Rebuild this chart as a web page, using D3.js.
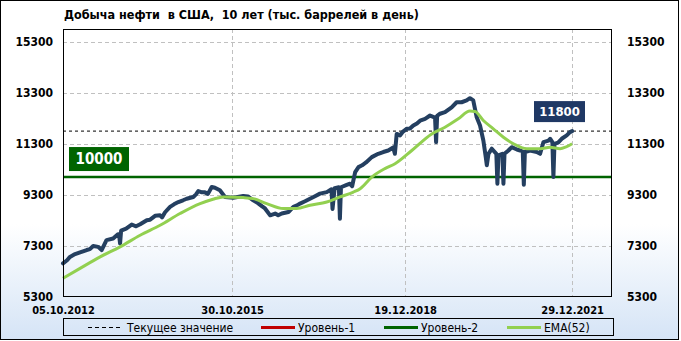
<!DOCTYPE html>
<html>
<head>
<meta charset="utf-8">
<script src="https://cdn.jsdelivr.net/npm/d3@7"></script>
<style>
body { margin: 0; background: #fff; }
svg { display: block; }
</style>
</head>
<body>
<script>
var title = "Добыча нефти  в США,  10 лет (тыс. баррелей в день)";

// weekly production (thousand barrels per day)
var oilDates = ["2012-10-05","2012-11-01","2012-11-20","2012-12-24","2013-01-26","2013-03-11","2013-04-01","2013-04-23",
  "2013-05-26","2013-06-18","2013-07-20","2013-09-02","2013-10-04","2013-10-11","2013-10-18","2013-10-25","2013-11-27",
  "2014-01-03","2014-02-01","2014-02-28","2014-04-13","2014-05-05","2014-06-07","2014-07-10","2014-07-23","2014-08-12",
  "2014-09-14","2014-10-10","2014-11-08","2014-12-09","2015-01-02","2015-02-15","2015-03-05","2015-03-20","2015-04-13",
  "2015-05-03","2015-05-23","2015-06-17","2015-07-08","2015-08-10","2015-09-13","2015-11-06","2016-01-12","2016-02-12",
  "2016-03-18","2016-04-20","2016-05-16","2016-06-04","2016-07-08","2016-08-10","2016-08-30","2016-09-23","2016-11-06",
  "2016-12-09","2017-01-02","2017-01-22","2017-02-24","2017-03-29","2017-05-01","2017-06-03","2017-07-18","2017-08-18",
  "2017-08-25","2017-09-08","2017-10-06","2017-10-13","2017-10-20","2017-11-23","2017-12-19","2018-01-02","2018-01-22",
  "2018-02-13","2018-03-09","2018-04-04","2018-05-12","2018-06-24","2018-07-27","2018-08-29","2018-10-01","2018-10-12",
  "2018-10-24","2018-11-15","2018-12-05","2018-12-29","2019-01-20","2019-02-11","2019-03-07","2019-03-28","2019-04-30",
  "2019-06-02","2019-07-05","2019-07-12","2019-07-19","2019-08-07","2019-09-09","2019-10-23","2019-11-25","2019-12-28",
  "2020-01-30","2020-02-21","2020-03-14","2020-04-06","2020-04-28","2020-05-20","2020-06-05","2020-06-12","2020-06-23",
  "2020-07-15","2020-08-14","2020-08-21","2020-08-28","2020-09-23","2020-09-30","2020-10-07","2020-11-02","2020-11-24",
  "2020-12-28","2021-01-19","2021-02-05","2021-02-12","2021-02-19","2021-03-26","2021-05-09","2021-05-31","2021-06-22",
  "2021-07-25","2021-08-05","2021-08-20","2021-08-27","2021-09-03","2021-09-27","2021-10-21","2021-11-23","2021-12-15",
  "2021-12-29"];
var oilValues = [6620,6740,6870,6980,7050,7140,7175,7300,
  7265,7140,7530,7590,7760,7760,7400,7900,7980,
  8140,8070,8150,8310,8330,8480,8500,8420,8620,
  8830,8930,9020,9090,9150,9220,9320,9450,9400,
  9400,9340,9610,9580,9480,9220,9190,9260,9240,
  9090,8970,8850,8770,8500,8570,8500,8570,8630,
  8830,8890,8960,9050,9150,9250,9350,9410,9520,
  8750,9560,9600,8370,9600,9680,9740,9640,10190,
  10390,10460,10570,10780,10910,10980,11040,11160,10910,
  11690,11630,11780,11890,11900,12020,12100,12210,12280,
  12410,12330,11370,12400,12480,12540,12730,12930,12930,
  13000,13090,13000,12340,12020,11430,10780,10460,10910,
  11110,10910,9740,10850,10910,9740,10910,11040,11170,
  11080,11040,11000,9700,10980,11040,10980,10910,11370,
  11430,11500,11370,10000,11300,11350,11500,11630,11760,
  11800];

// EMA(52) line
var emaDates = ["2012-10-05","2013-01-26","2013-06-08","2013-10-18","2014-02-28","2014-07-10","2014-11-19","2015-04-01",
  "2015-06-25","2015-09-02","2016-01-12","2016-03-18","2016-06-15","2016-10-03","2016-12-31","2017-03-29","2017-07-18",
  "2017-10-14","2018-01-10","2018-02-24","2018-05-12","2018-08-07","2018-10-13","2019-02-01","2019-06-13","2019-09-09",
  "2019-12-06","2020-02-21","2020-03-26","2020-05-20","2020-07-25","2020-09-30","2020-12-05","2021-03-04","2021-05-31",
  "2021-08-05","2021-10-10","2021-11-19","2021-12-29"];
var emaValues = [6030,6420,6870,7265,7720,8110,8570,8960,
  9130,9220,9195,9155,8960,8765,8765,8895,9020,
  9220,9410,9545,10000,10330,10520,11040,11690,11950,
  12280,12585,12565,12215,11890,11560,11305,11110,11110,
  11170,11110,11180,11305];

var yTicks = [5300, 7300, 9300, 11300, 13300, 15300];
var xTicks = ["2012-10-05", "2015-10-30", "2018-12-19", "2021-12-29"];
var currentValue = 11800;
var level2Value = 10000;
var legendLabels = ["Текущее значение", "Уровень-1", "Уровень-2", "EMA(52)"];
var legendColors = ["#000000", "#c00000", "#006400", "#92d050"];

var width = 681, height = 341;
var margin = {top: 29, right: 69, bottom: 44, left: 63};
var parse = d3.timeParse("%Y-%m-%d");

var x = d3.scaleTime()
  .domain([parse("2012-10-05"), parse("2022-09-19")])
  .range([margin.left, width - margin.right]);
var y = d3.scaleLinear()
  .domain([5300, 15800])
  .range([height - margin.bottom, margin.top]);

var svg = d3.select("body").append("svg")
  .attr("width", width)
  .attr("height", height);

// background gradient
var grad = svg.append("defs").append("linearGradient")
  .attr("id", "bg").attr("x1", 0).attr("y1", 0).attr("x2", 0).attr("y2", 1);
grad.append("stop").attr("offset", "0").attr("stop-color", "#ffffff");
grad.append("stop").attr("offset", "0.66").attr("stop-color", "#ffffff");
grad.append("stop").attr("offset", "1").attr("stop-color", "#d5e4f6");

svg.append("rect")
  .attr("x", 0.5).attr("y", 0.5)
  .attr("width", width - 3).attr("height", height - 2)
  .attr("fill", "url(#bg)")
  .attr("stroke", "#000");

var font = "'DejaVu Sans Condensed', 'DejaVu Sans', sans-serif";

svg.append("text")
  .attr("x", 64).attr("y", 19)
  .style("white-space", "pre")
  .attr("font-family", font).attr("font-stretch", "condensed")
  .attr("font-weight", "bold").attr("font-size", "12.5px")
  .text(title);

// gridlines
svg.append("g")
  .selectAll("line.gy")
  .data(yTicks.slice(1))
  .enter().append("line")
  .attr("x1", margin.left).attr("x2", width - margin.right)
  .attr("y1", function(d){ return Math.round(y(d)) + 0.5; })
  .attr("y2", function(d){ return Math.round(y(d)) + 0.5; })
  .attr("stroke", "#c0c0c0").attr("stroke-dasharray", "4,3");

svg.append("g")
  .selectAll("line.gx")
  .data(xTicks.slice(1))
  .enter().append("line")
  .attr("x1", function(d){ return Math.round(x(parse(d))) + 0.5; })
  .attr("x2", function(d){ return Math.round(x(parse(d))) + 0.5; })
  .attr("y1", margin.top).attr("y2", height - margin.bottom)
  .attr("stroke", "#c0c0c0").attr("stroke-dasharray", "4,3");

// axes
var yLeft = d3.axisLeft(y).tickValues(yTicks).tickFormat(d3.format("d")).tickSize(0).tickPadding(10);
var yRight = d3.axisRight(y).tickValues(yTicks).tickFormat(d3.format("d")).tickSize(0).tickPadding(15);
var xAxis = d3.axisBottom(x)
  .tickValues(xTicks.map(parse))
  .tickFormat(d3.timeFormat("%d.%m.%Y"))
  .tickSize(0).tickPadding(9);

function styleAxis(g, size) {
  g.select(".domain").remove();
  g.selectAll("text")
    .attr("font-family", font).attr("font-stretch", "condensed")
    .attr("font-weight", "bold").attr("font-size", size).attr("fill", "#000");
}

svg.append("g").attr("transform", "translate(" + margin.left + ",0)")
  .call(yLeft).call(styleAxis, "12px");
svg.append("g").attr("transform", "translate(" + (width - margin.right) + ",0)")
  .call(yRight).call(styleAxis, "12px");
svg.append("g").attr("transform", "translate(0," + (height - margin.bottom) + ")")
  .call(xAxis).call(styleAxis, "11px");

// level lines
svg.append("line")
  .attr("x1", margin.left).attr("x2", width - margin.right)
  .attr("y1", y(currentValue)).attr("y2", y(currentValue))
  .attr("stroke", "#000").attr("stroke-dasharray", "3,3");

svg.append("line")
  .attr("x1", margin.left).attr("x2", width - margin.right)
  .attr("y1", y(level2Value)).attr("y2", y(level2Value))
  .attr("stroke", "#006400").attr("stroke-width", 2.5);

// series
var oil = oilDates.map(function(d, i){ return {date: parse(d), value: oilValues[i]}; });
var ema = emaDates.map(function(d, i){ return {date: parse(d), value: emaValues[i]}; });

var line = d3.line()
  .x(function(d){ return x(d.date); })
  .y(function(d){ return y(d.value); });
var smooth = d3.line()
  .curve(d3.curveMonotoneX)
  .x(function(d){ return x(d.date); })
  .y(function(d){ return y(d.value); });

svg.append("path").datum(oil)
  .attr("d", line)
  .attr("fill", "none").attr("stroke", "#243f60")
  .attr("stroke-width", 4).attr("stroke-linejoin", "round").attr("stroke-linecap", "round");

svg.append("path").datum(ema)
  .attr("d", smooth)
  .attr("fill", "none").attr("stroke", "#92d050")
  .attr("stroke-width", 3);

// plot frame
svg.append("rect")
  .attr("x", margin.left + 0.5).attr("y", margin.top + 0.5)
  .attr("width", width - margin.left - margin.right - 1)
  .attr("height", height - margin.top - margin.bottom - 1)
  .attr("fill", "none").attr("stroke", "#000");

// value labels
function valueLabel(value, left, top, w, h, bg, size) {
  var g = svg.append("g");
  g.append("rect")
    .attr("x", left).attr("y", y(value) - top)
    .attr("width", w).attr("height", h)
    .attr("fill", bg);
  g.append("text")
    .attr("x", left + w / 2).attr("y", y(value) - top + h / 2)
    .attr("dy", "0.36em")
    .attr("text-anchor", "middle")
    .attr("font-family", font).attr("font-weight", "bold")
    .attr("font-size", size).attr("fill", "#fff")
    .text(d3.format("d")(value));
}
valueLabel(level2Value, 69, 30, 60, 24, "#006400", "15px");
valueLabel(currentValue, 534, 30, 51, 21, "#1f3864", "13px");

// legend
var legend = svg.append("g");
legend.append("rect")
  .attr("x", 63.5).attr("y", 318.5).attr("width", 550).attr("height", 17)
  .attr("fill", "none").attr("stroke", "#000");
var legendX = [88, 261, 384, 507];
legendLabels.forEach(function(label, i) {
  legend.append("line")
    .attr("x1", legendX[i]).attr("x2", legendX[i] + 34)
    .attr("y1", 327.5).attr("y2", 327.5)
    .attr("stroke", legendColors[i])
    .attr("stroke-width", i == 0 ? 1 : 3)
    .attr("stroke-dasharray", i == 0 ? "4,3" : null);
  legend.append("text")
    .attr("x", legendX[i] + (i == 0 ? 39 : 37)).attr("y", 327.5)
    .attr("dy", "0.35em")
    .attr("font-family", font).attr("font-stretch", "condensed")
    .attr("font-size", "12px").attr("fill", "#000")
    .text(label);
});
</script>
</body>
</html>
